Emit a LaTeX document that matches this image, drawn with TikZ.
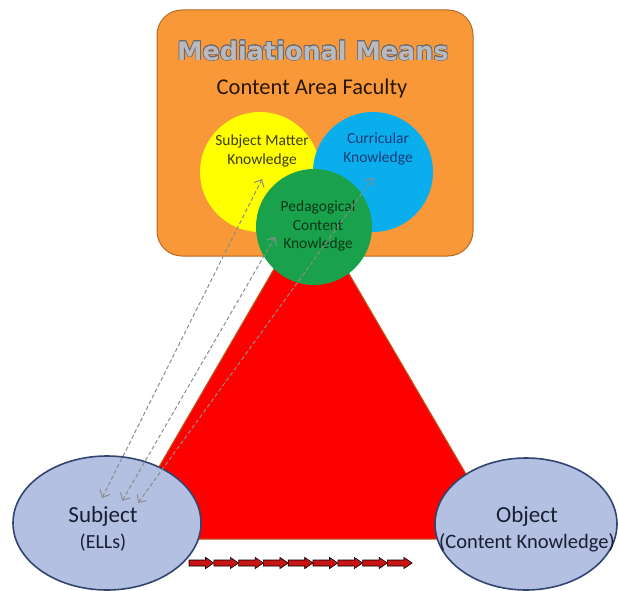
\documentclass[tikz,border=0pt]{standalone}
\usepackage{fontspec}
\setmainfont{Carlito}
\newfontfamily\mmfont{DejaVu Sans}
\usepackage{contour}
\usetikzlibrary{arrows.meta,shapes.geometric}
\definecolor{boxorange}{RGB}{248,152,56}
\definecolor{boxedge}{RGB}{185,105,35}
\definecolor{cyellow}{RGB}{255,255,0}
\definecolor{cblue}{RGB}{10,174,236}
\definecolor{cgreen}{RGB}{25,162,75}
\definecolor{trired}{RGB}{255,0,0}
\definecolor{triedge}{RGB}{185,95,30}
\definecolor{ellfill}{RGB}{180,192,225}
\definecolor{elledge}{RGB}{50,68,112}
\definecolor{txtdark}{RGB}{40,22,8}
\definecolor{txtolive}{RGB}{60,60,10}
\definecolor{txtnavy}{RGB}{25,60,120}
\definecolor{txtgreen}{RGB}{10,55,25}
\definecolor{txtell}{RGB}{25,30,50}
\definecolor{mmfill}{RGB}{185,185,190}
\definecolor{mmedge}{RGB}{105,105,112}
\definecolor{arrred}{RGB}{200,20,20}
\definecolor{dashgray}{RGB}{140,140,140}
\contourlength{0.7pt}
\tikzset{
  knowcircle/.style={circle, inner sep=0pt, draw=none},
  ellnode/.style={ellipse, fill=ellfill, draw=elledge, line width=1.6pt, inner sep=0pt},
  knowtext/.style={align=center, inner sep=0pt, font=\fontsize{15.5}{18.5}\selectfont},
  elltext/.style={align=center, inner sep=0pt, text=txtell},
  dasharrow/.style={draw=dashgray, line width=1pt, dash pattern=on 4pt off 2.5pt,
    {Straight Barb[length=6pt,width=11pt]}-{Straight Barb[length=6pt,width=11pt]}},
  redarr/.style={draw=black, fill=arrred, line width=0.6pt, line join=miter}
}
\begin{document}
\begin{tikzpicture}[x=1pt,y=-1pt]
\useasboundingbox (0,0) rectangle (618,591);
% triangle
\draw[fill=trired, draw=triedge, line width=1pt] (310,207) -- (504,539) -- (117,539) -- cycle;
% mediational means box
\draw[fill=boxorange, draw=boxedge, line width=1pt, rounded corners=25pt] (157,10) rectangle (473,256);
\node (mm) at (313,51) {\mmfont\bfseries\fontsize{25.5}{30}\selectfont\contour{mmedge}{\textcolor{mmfill}{Mediational Means}}};
\node[text=txtdark, font=\fontsize{22.5}{26}\selectfont] (caf) at (312,89) {Content Area Faculty};
% knowledge circles
\node[knowcircle, fill=cyellow, minimum size=120pt] (smk) at (260,172) {};
\node[knowcircle, fill=cblue, minimum size=120pt] (ck) at (373,172) {};
\node[knowcircle, fill=cgreen, minimum size=116pt] (pck) at (314,227) {};
\node[knowtext, text=txtolive] (smkt) at (262,151) {Subject Matter\\Knowledge};
\node[knowtext, text=txtnavy] (ckt) at (378,149) {Curricular\\Knowledge};
\node[knowtext, text=txtgreen] (pckt) at (318,226) {Pedagogical\\Content\\Knowledge};
% subject / object
\node[ellnode, minimum width=188pt, minimum height=134pt] (subj) at (107,523) {};
\node[ellnode, minimum width=182pt, minimum height=132pt] (obj) at (526,524) {};
\node[elltext, font=\fontsize{23}{26}\selectfont] (subjt) at (103,516) {Subject};
\node[elltext, font=\fontsize{20}{24}\selectfont] (ellt) at (103,543) {(ELLs)};
\node[elltext, font=\fontsize{23}{26}\selectfont] (objt) at (527,516) {Object};
\node[elltext, font=\fontsize{20.5}{24}\selectfont] (ckt2) at (527,543) {(Content Knowledge)};
% dashed double arrows
\coordinate (a1s) at (102,498);
\coordinate (a1e) at (262,179);
\coordinate (a2s) at (122,501);
\coordinate (a2e) at (275,237);
\coordinate (a3s) at (138,503);
\coordinate (a3e) at (373,178);
\draw[dasharrow] (a1s) -- (a1e);
\draw[dasharrow] (a2s) -- (a2e);
\draw[dasharrow] (a3s) -- (a3e);
% row of block arrows
\foreach \i in {0,...,8}{
  \pgfmathsetmacro{\xo}{189+24.8*\i}
  \draw[redarr] (\xo,560) -- ++(16.5,0) -- ++(0,-2.6) -- ++(8.3,5.6) -- ++(-8.3,5.6)
     -- ++(0,-2.6) -- ++(-16.5,0) -- cycle;
}
\end{tikzpicture}
\end{document}
